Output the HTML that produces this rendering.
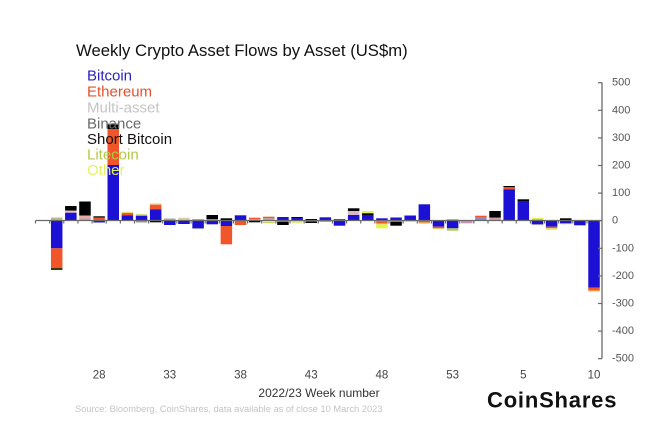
<!DOCTYPE html>
<html><head><meta charset="utf-8"><style>
html,body{margin:0;padding:0;background:#fff;}
svg{display:block;}
text{font-family:"Liberation Sans",sans-serif;}
</style></head><body>
<svg width="660" height="439" viewBox="0 0 660 439" xmlns="http://www.w3.org/2000/svg">
<rect width="660" height="439" fill="#fff"/>
<!-- bars -->
<g transform="translate(50.95,0)"><rect width="11.5" y="217.5" height="2.5" fill="#b8bc90"/><rect width="11.5" y="220" height="28.3" fill="#1c10d4"/><rect width="11.5" y="248.3" height="19.7" fill="#f0562a"/><rect width="11.5" y="268" height="2" fill="#3a3a10"/></g>
<g transform="translate(65.09,0)"><rect width="11.5" y="206" height="4.7" fill="#000"/><rect width="11.5" y="210.7" height="2" fill="#f0c0c0"/><rect width="11.5" y="212.7" height="7.3" fill="#1c10d4"/></g>
<g transform="translate(79.23,0)"><rect width="11.5" y="201.5" height="14" fill="#000"/><rect width="11.5" y="215.5" height="3" fill="#f0a8a0"/><rect width="11.5" y="218.5" height="1.5" fill="#aaa"/></g>
<g transform="translate(93.37,0)"><rect width="11.5" y="216.3" height="1.4" fill="#000"/><rect width="11.5" y="217.7" height="2.3" fill="#f0562a"/><rect width="11.5" y="220" height="2.5" fill="#1c10d4"/></g>
<g transform="translate(107.51,0)"><rect width="11.5" y="123" height="1.5" fill="#bbb"/><rect width="11.5" y="124.5" height="4.5" fill="#000"/><rect width="11.5" y="129" height="36" fill="#f0562a"/><rect width="11.5" y="165" height="55" fill="#1c10d4"/></g>
<g transform="translate(121.65,0)"><rect width="11.5" y="211.7" height="1.3" fill="#e8e080"/><rect width="11.5" y="213" height="2.3" fill="#f0562a"/><rect width="11.5" y="215.3" height="4.7" fill="#1c10d4"/></g>
<g transform="translate(135.79,0)"><rect width="11.5" y="214" height="1.7" fill="#c8e090"/><rect width="11.5" y="215.7" height="4.3" fill="#1c10d4"/><rect width="11.5" y="220" height="2.5" fill="#999"/></g>
<g transform="translate(149.93,0)"><rect width="11.5" y="203.3" height="1.4" fill="#f0d890"/><rect width="11.5" y="204.7" height="4.6" fill="#f0562a"/><rect width="11.5" y="209.3" height="10.7" fill="#1c10d4"/><rect width="11.5" y="220" height="2.3" fill="#000"/></g>
<g transform="translate(164.07,0)"><rect width="11.5" y="218.5" height="1.5" fill="#aaa"/><rect width="11.5" y="220" height="5" fill="#1c10d4"/></g>
<g transform="translate(178.21,0)"><rect width="11.5" y="217.7" height="2.3" fill="#d8d0b0"/><rect width="11.5" y="220" height="4" fill="#1c10d4"/></g>
<g transform="translate(192.35,0)"><rect width="11.5" y="219" height="1" fill="#aaa"/><rect width="11.5" y="220" height="8.3" fill="#1c10d4"/><rect width="11.5" y="228.3" height="0.8" fill="#aaa"/></g>
<g transform="translate(206.49,0)"><rect width="11.5" y="215" height="4.3" fill="#000"/><rect width="11.5" y="219.3" height="0.7" fill="#aaa"/><rect width="11.5" y="220.3" height="4" fill="#1c10d4"/></g>
<g transform="translate(220.63,0)"><rect width="11.5" y="218.3" height="1.7" fill="#000"/><rect width="11.5" y="220" height="6" fill="#1c10d4"/><rect width="11.5" y="226" height="18.3" fill="#f0562a"/></g>
<g transform="translate(234.77,0)"><rect width="11.5" y="215.3" height="4.7" fill="#1c10d4"/><rect width="11.5" y="220" height="5" fill="#f0562a"/></g>
<g transform="translate(248.91,0)"><rect width="11.5" y="217.7" height="1.6" fill="#f0562a"/><rect width="11.5" y="219.3" height="0.7" fill="#aaa"/><rect width="11.5" y="220.5" height="1.8" fill="#000"/></g>
<g transform="translate(263.05,0)"><rect width="11.5" y="216.7" height="1.6" fill="#f0562a"/><rect width="11.5" y="218.3" height="1.7" fill="#aaa"/><rect width="11.5" y="221.7" height="1.5" fill="#c8d060"/></g>
<g transform="translate(277.19,0)"><rect width="11.5" y="217" height="3" fill="#1c10d4"/><rect width="11.5" y="220" height="1.7" fill="#aaa"/><rect width="11.5" y="221.7" height="3.3" fill="#000"/></g>
<g transform="translate(291.33,0)"><rect width="11.5" y="217" height="1" fill="#000"/><rect width="11.5" y="218" height="2" fill="#1c10d4"/><rect width="11.5" y="220" height="1.5" fill="#aaa"/><rect width="11.5" y="222.3" height="1" fill="#d8e060"/></g>
<g transform="translate(305.47,0)"><rect width="11.5" y="219" height="1" fill="#000"/><rect width="11.5" y="220" height="1.5" fill="#aaa"/><rect width="11.5" y="221.5" height="1.5" fill="#000"/></g>
<g transform="translate(319.61,0)"><rect width="11.5" y="217.3" height="2.7" fill="#1c10d4"/><rect width="11.5" y="220" height="2" fill="#aaa"/></g>
<g transform="translate(333.75,0)"><rect width="11.5" y="219" height="1" fill="#555"/><rect width="11.5" y="220" height="5.7" fill="#1c10d4"/></g>
<g transform="translate(347.89,0)"><rect width="11.5" y="208.3" height="2.7" fill="#000"/><rect width="11.5" y="211" height="4" fill="#d8b8c8"/><rect width="11.5" y="215" height="5" fill="#1c10d4"/></g>
<g transform="translate(362.03,0)"><rect width="11.5" y="211" height="2.3" fill="#e6f050"/><rect width="11.5" y="213.3" height="2.4" fill="#000"/><rect width="11.5" y="215.7" height="4.3" fill="#1c10d4"/></g>
<g transform="translate(376.17,0)"><rect width="11.5" y="218.3" height="1.7" fill="#1c10d4"/><rect width="11.5" y="220" height="1.5" fill="#aaa"/><rect width="11.5" y="221.5" height="1.8" fill="#f0562a"/><rect width="11.5" y="223.3" height="1" fill="#aaa"/><rect width="11.5" y="224.3" height="4" fill="#e6f540"/></g>
<g transform="translate(390.31,0)"><rect width="11.5" y="217.5" height="2.5" fill="#1c10d4"/><rect width="11.5" y="220" height="1.7" fill="#aaa"/><rect width="11.5" y="221.7" height="4" fill="#000"/></g>
<g transform="translate(404.45,0)"><rect width="11.5" y="215.5" height="4.5" fill="#1c10d4"/><rect width="11.5" y="220" height="1.5" fill="#aaa"/></g>
<g transform="translate(418.59,0)"><rect width="11.5" y="204.3" height="15.7" fill="#1c10d4"/><rect width="11.5" y="220" height="2.7" fill="#f0562a"/><rect width="11.5" y="222.7" height="1.3" fill="#e6f050"/></g>
<g transform="translate(432.73,0)"><rect width="11.5" y="220" height="6.7" fill="#1c10d4"/><rect width="11.5" y="226.7" height="1.6" fill="#f0562a"/><rect width="11.5" y="228.3" height="0.8" fill="#e6d050"/></g>
<g transform="translate(446.87,0)"><rect width="11.5" y="219" height="1" fill="#bbb"/><rect width="11.5" y="220" height="8.3" fill="#1c10d4"/><rect width="11.5" y="228.3" height="2.4" fill="#b0c860"/></g>
<g transform="translate(461.01,0)"><rect width="11.5" y="220" height="3.3" fill="#c890b8"/></g>
<g transform="translate(475.15,0)"><rect width="11.5" y="215.7" height="2" fill="#f0562a"/><rect width="11.5" y="217.7" height="2.3" fill="#8888cc"/></g>
<g transform="translate(489.29,0)"><rect width="11.5" y="211" height="6.7" fill="#000"/><rect width="11.5" y="217.7" height="1" fill="#e08080"/><rect width="11.5" y="218.7" height="1.3" fill="#aaa"/></g>
<g transform="translate(503.43,0)"><rect width="11.5" y="186" height="1.3" fill="#000"/><rect width="11.5" y="187.3" height="2" fill="#f0562a"/><rect width="11.5" y="189.3" height="30.7" fill="#1c10d4"/></g>
<g transform="translate(517.57,0)"><rect width="11.5" y="199.3" height="1.7" fill="#000"/><rect width="11.5" y="201" height="19" fill="#1c10d4"/></g>
<g transform="translate(531.71,0)"><rect width="11.5" y="217.7" height="1.6" fill="#e6f050"/><rect width="11.5" y="219.3" height="0.7" fill="#aaa"/><rect width="11.5" y="220" height="4.3" fill="#1c10d4"/><rect width="11.5" y="224.3" height="0.8" fill="#aaa"/></g>
<g transform="translate(545.85,0)"><rect width="11.5" y="220" height="6.7" fill="#1c10d4"/><rect width="11.5" y="226.7" height="1.6" fill="#f0562a"/><rect width="11.5" y="228.3" height="1.7" fill="#e6f050"/></g>
<g transform="translate(559.99,0)"><rect width="11.5" y="218.3" height="1.7" fill="#000"/><rect width="11.5" y="220" height="3.3" fill="#1c10d4"/><rect width="11.5" y="223.3" height="0.8" fill="#aaa"/></g>
<g transform="translate(574.13,0)"><rect width="11.5" y="220" height="5" fill="#1c10d4"/><rect width="11.5" y="225" height="1" fill="#c8c860"/></g>
<g transform="translate(588.27,0)"><rect width="11.5" y="220" height="67.7" fill="#1c10d4"/><rect width="11.5" y="287.7" height="3" fill="#f0562a"/><rect width="11.5" y="290.7" height="1.3" fill="#e6f050"/></g>

<!-- x axis zero line and ticks -->
<line x1="35.5" y1="220.5" x2="602" y2="220.5" stroke="#6a6a6a" stroke-width="1.2"/>
<g stroke="#6a6a6a" stroke-width="1.2">
<line x1="35.5" y1="220.5" x2="35.5" y2="223.5"/><line x1="49.64" y1="220.5" x2="49.64" y2="223.5"/><line x1="63.78" y1="220.5" x2="63.78" y2="223.5"/><line x1="77.92" y1="220.5" x2="77.92" y2="223.5"/><line x1="92.06" y1="220.5" x2="92.06" y2="223.5"/><line x1="106.2" y1="220.5" x2="106.2" y2="223.5"/><line x1="120.34" y1="220.5" x2="120.34" y2="223.5"/><line x1="134.48" y1="220.5" x2="134.48" y2="223.5"/><line x1="148.62" y1="220.5" x2="148.62" y2="223.5"/><line x1="162.76" y1="220.5" x2="162.76" y2="223.5"/><line x1="176.9" y1="220.5" x2="176.9" y2="223.5"/><line x1="191.04" y1="220.5" x2="191.04" y2="223.5"/><line x1="205.18" y1="220.5" x2="205.18" y2="223.5"/><line x1="219.32" y1="220.5" x2="219.32" y2="223.5"/><line x1="233.46" y1="220.5" x2="233.46" y2="223.5"/><line x1="247.6" y1="220.5" x2="247.6" y2="223.5"/><line x1="261.74" y1="220.5" x2="261.74" y2="223.5"/><line x1="275.88" y1="220.5" x2="275.88" y2="223.5"/><line x1="290.02" y1="220.5" x2="290.02" y2="223.5"/><line x1="304.16" y1="220.5" x2="304.16" y2="223.5"/><line x1="318.3" y1="220.5" x2="318.3" y2="223.5"/><line x1="332.44" y1="220.5" x2="332.44" y2="223.5"/><line x1="346.58" y1="220.5" x2="346.58" y2="223.5"/><line x1="360.72" y1="220.5" x2="360.72" y2="223.5"/><line x1="374.86" y1="220.5" x2="374.86" y2="223.5"/><line x1="389" y1="220.5" x2="389" y2="223.5"/><line x1="403.14" y1="220.5" x2="403.14" y2="223.5"/><line x1="417.28" y1="220.5" x2="417.28" y2="223.5"/><line x1="431.42" y1="220.5" x2="431.42" y2="223.5"/><line x1="445.56" y1="220.5" x2="445.56" y2="223.5"/><line x1="459.7" y1="220.5" x2="459.7" y2="223.5"/><line x1="473.84" y1="220.5" x2="473.84" y2="223.5"/><line x1="487.98" y1="220.5" x2="487.98" y2="223.5"/><line x1="502.12" y1="220.5" x2="502.12" y2="223.5"/><line x1="516.26" y1="220.5" x2="516.26" y2="223.5"/><line x1="530.4" y1="220.5" x2="530.4" y2="223.5"/><line x1="544.54" y1="220.5" x2="544.54" y2="223.5"/><line x1="558.68" y1="220.5" x2="558.68" y2="223.5"/><line x1="572.82" y1="220.5" x2="572.82" y2="223.5"/><line x1="586.96" y1="220.5" x2="586.96" y2="223.5"/>
</g>

<!-- y axis -->
<line x1="602" y1="82.5" x2="602" y2="358.5" stroke="#6a6a6a" stroke-width="1.3"/>
<g stroke="#6a6a6a" stroke-width="1.2">
<line x1="598" y1="82.7" x2="602" y2="82.7"/><line x1="598" y1="110.3" x2="602" y2="110.3"/><line x1="598" y1="137.9" x2="602" y2="137.9"/><line x1="598" y1="165.5" x2="602" y2="165.5"/><line x1="598" y1="193.1" x2="602" y2="193.1"/><line x1="598" y1="220.7" x2="602" y2="220.7"/><line x1="598" y1="248.3" x2="602" y2="248.3"/><line x1="598" y1="275.9" x2="602" y2="275.9"/><line x1="598" y1="303.5" x2="602" y2="303.5"/><line x1="598" y1="331.1" x2="602" y2="331.1"/><line x1="598" y1="358.7" x2="602" y2="358.7"/>
</g>
<g font-size="11" fill="#555" dominant-baseline="central">
<text x="612" y="82.7">500</text><text x="612" y="110.3">400</text><text x="612" y="137.9">300</text><text x="612" y="165.5">200</text><text x="612" y="193.1">100</text><text x="612" y="220.7">0</text><text x="612" y="248.3">-100</text><text x="612" y="275.9">-200</text><text x="612" y="303.5">-300</text><text x="612" y="331.1">-400</text><text x="612" y="358.7">-500</text>
</g>

<!-- x labels -->
<g font-size="11.5" fill="#444" text-anchor="middle">
<text x="99.1" y="378.3">28</text><text x="169.8" y="378.3">33</text><text x="240.5" y="378.3">38</text><text x="311.2" y="378.3">43</text><text x="381.9" y="378.3">48</text><text x="452.6" y="378.3">53</text><text x="523.3" y="378.3">5</text><text x="594" y="378.3">10</text>
</g>
<text x="319" y="397" font-size="12" fill="#333" text-anchor="middle">2022/23 Week number</text>
<text x="75" y="412" font-size="9.3" fill="#c4c4c4">Source: Bloomberg, CoinShares, data available as of close 10 March 2023</text>
<text x="487" y="407.7" font-size="22" font-weight="bold" fill="#111" letter-spacing="0.8">CoinShares</text>

<!-- title -->
<text x="76" y="56" font-size="16.7" fill="#111">Weekly Crypto Asset Flows by Asset (US$m)</text>

<!-- legend -->
<g font-size="15">
<text x="87" y="80.7" fill="#2a1fc8">Bitcoin</text>
<text x="87" y="96.7" fill="#e8502a">Ethereum</text>
<text x="87" y="112.7" fill="#c4c4c4">Multi-asset</text>
<text x="87" y="128.3" fill="#6b6b6b">Binance</text>
<text x="87" y="144" fill="#111">Short Bitcoin</text>
<text x="87" y="159.3" fill="#b4c848">Litecoin</text>
<text x="87" y="175" fill="#e2f264">Other</text>
</g>
</svg>
</body></html>
